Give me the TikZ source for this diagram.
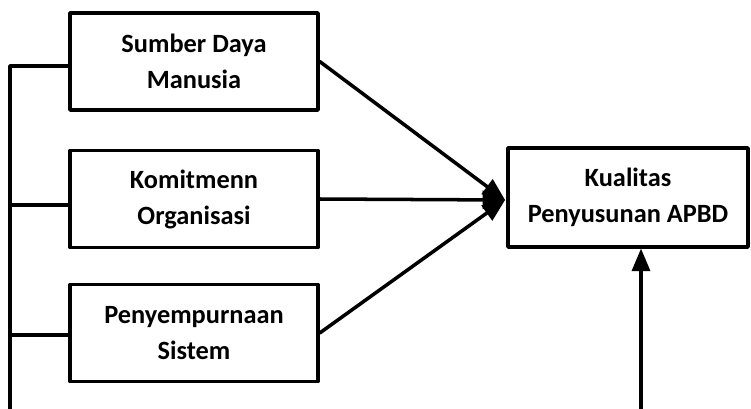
\documentclass[tikz,border=0pt]{standalone}
\usepackage{fontspec}
\setmainfont{Carlito}
\usetikzlibrary{calc}
\usetikzlibrary{arrows}

\begin{document}
\begin{tikzpicture}[x=0.02cm, y=-0.02cm, line cap = round, line join = round, >=triangle 45]
\tikzstyle{varbox}=[draw=black, line width=2pt, align=center, font=\fontsize{15}{20.5}\selectfont\bfseries, minimum width=4.96cm, minimum height=1.94cm, inner sep=0pt]
\tikzstyle{link}=[line width=2pt, color=black]
\useasboundingbox (0,0) rectangle (751,409);

\node[varbox] (sdm) at (194,61.5) {Sumber Daya\\Manusia};
\node[varbox] (ko) at (194,199) {Komitmenn\\Organisasi};
\node[varbox] (ps) at (194,333) {Penyempurnaan\\Sistem};
\node[varbox, minimum width=4.8cm, minimum height=1.98cm] (kps) at (628,197.5) {Kualitas\\Penyusunan APBD};

\coordinate (top) at (10,66);
\coordinate (bot) at (10,409);
\coordinate (c2) at (10,205);
\coordinate (c3) at (10,335);
\coordinate (tip) at (505,200);
\coordinate (v) at (641,409);

\draw[link] (bot) -- (top) -- (top -| sdm.west);
\draw[link] (c2) -- (c2 -| ko.west);
\draw[link] (c3) -- (c3 -| ps.west);

\draw[link,->] (sdm.east) -- (tip);
\draw[link,->] (ko.east) -- (tip);
\draw[link,->] (ps.east) -- (tip);
\draw[link,->] (v) -- (v |- kps.south);
\end{tikzpicture}
\end{document}
